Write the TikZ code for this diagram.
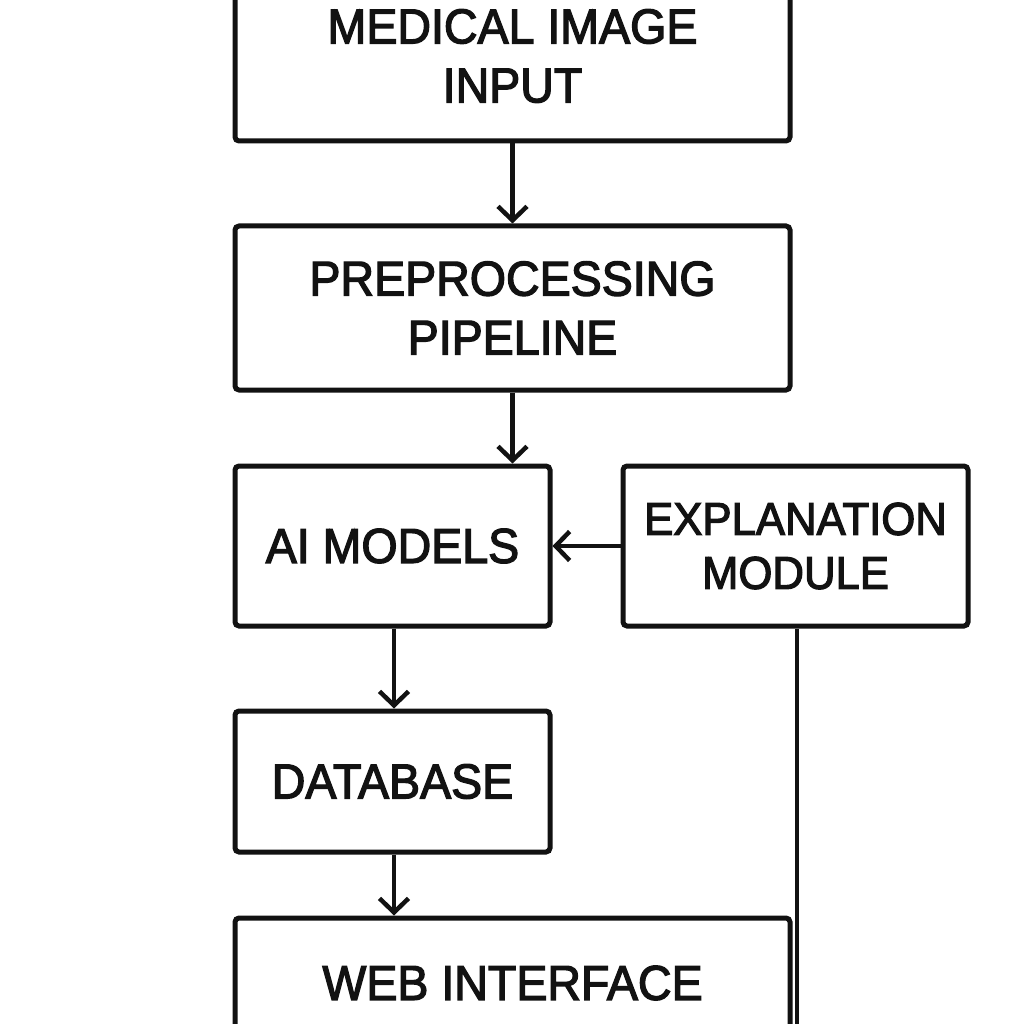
\documentclass[tikz,border=0pt]{standalone}
\usepackage{fontspec}
\usetikzlibrary{arrows.meta}
\newfontfamily\lblfont[FakeStretch=0.95,FakeBold=2.6]{Liberation Sans}
\begin{document}
\begin{tikzpicture}[x=1pt,y=-1pt,
  box/.style={draw=black!93, line width=5pt, rounded corners=4pt, align=center,
    inner sep=0pt, font=\lblfont\fontsize{49}{59}\selectfont, text=black!93},
  conn/.style={draw=black!93, line width=4.5pt},
  arr/.style={conn, -{Straight Barb[length=14pt, width=29pt, line width=4.5pt]}}]
\useasboundingbox (0,0) rectangle (1024,1024);
\clip (0,0) rectangle (1024,1024);
\fill[white] (0,0) rectangle (1024,1024);
\node[box, minimum width=555pt, minimum height=170pt] (inp) at (512.5,56) {MEDICAL IMAGE\\INPUT};
\node[box, minimum width=555pt, minimum height=164pt] (pre) at (512.5,308) {PREPROCESSING\\PIPELINE};
\node[box, minimum width=315pt, minimum height=160pt] (ai) at (392.5,546) {AI MODELS};
\node[box, minimum width=345pt, minimum height=160pt, font=\lblfont\fontsize{46}{54}\selectfont] (exp) at (795.5,546) {EXPLANATION\\MODULE};
\node[box, minimum width=315pt, minimum height=141pt] (db) at (392.5,781.5) {DATABASE};
\node[box, minimum width=555pt, minimum height=130pt] (web) at (512.5,983) {WEB INTERFACE};
\coordinate (down) at (797,1040);
\draw[arr] (inp.south) -- (pre.north);
\draw[arr] (pre.south) -- (pre.south |- ai.north);
\draw[arr] (exp.west) -- (ai.east);
\draw[arr] (ai.south -| 394,0) -- (db.north -| 394,0);
\draw[arr] (db.south -| 394,0) -- (web.north -| 394,0);
\draw[conn] (exp.south -| down) -- (down);
\end{tikzpicture}
\end{document}
